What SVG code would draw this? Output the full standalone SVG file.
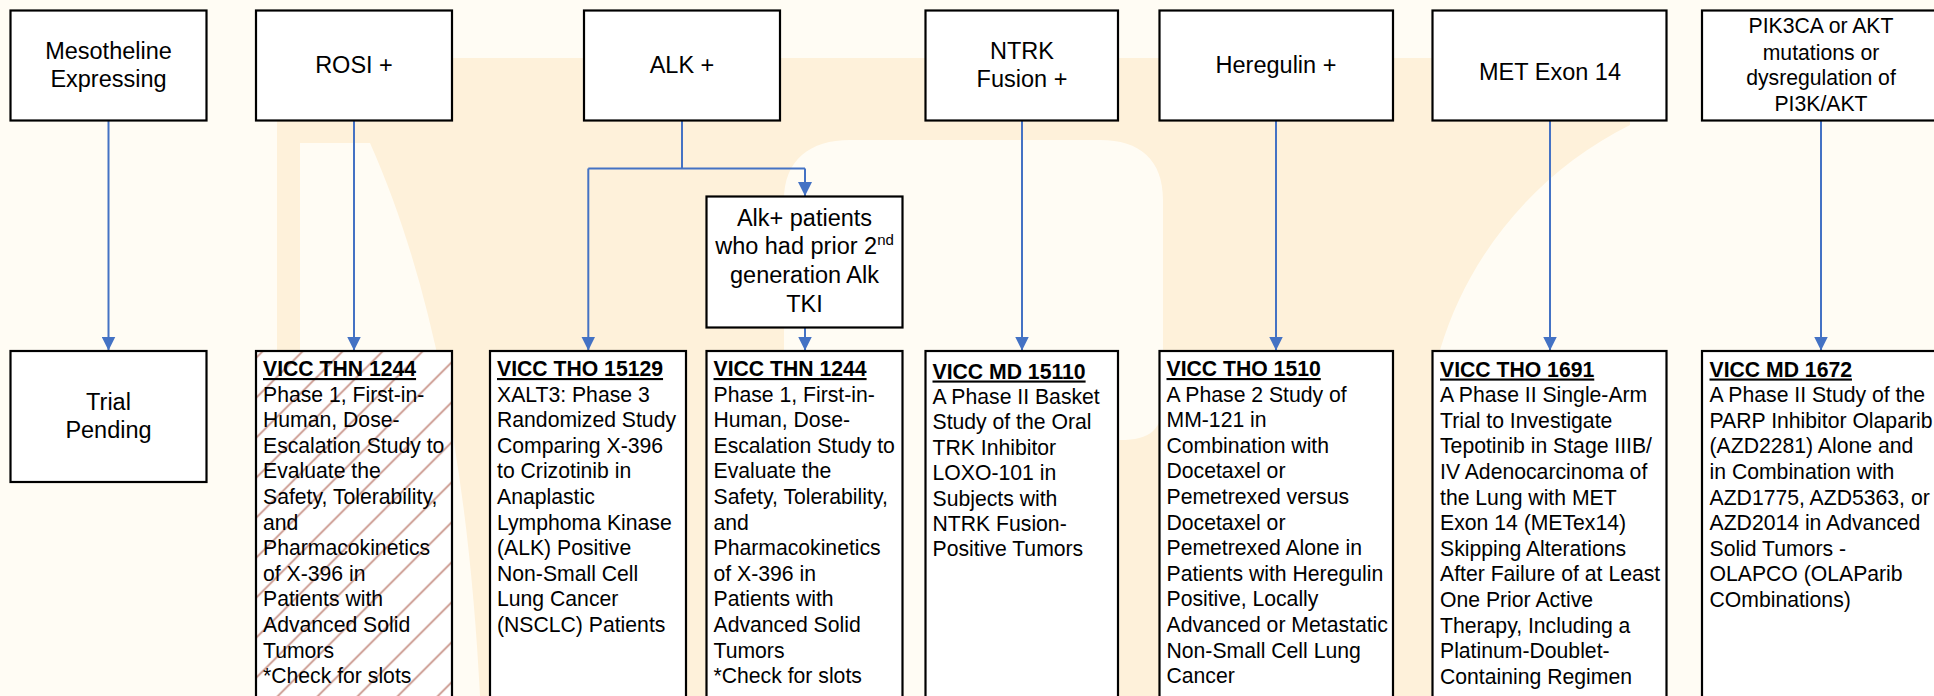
<svg xmlns="http://www.w3.org/2000/svg" width="1934" height="696" viewBox="0 0 1934 696">
<defs>
<style>
.box{fill:#FFFFFF;stroke:#000000;stroke-width:2.2}
.conn{fill:none;stroke:#4472C4;stroke-width:2}
.t{font-family:"Liberation Sans",Arial,sans-serif;font-size:23.5px;fill:#000;text-anchor:middle}
.ts{font-family:"Liberation Sans",Arial,sans-serif;font-size:21.2px;fill:#000;text-anchor:middle}
.b{font-family:"Liberation Sans",Arial,sans-serif;font-size:21.2px;fill:#000}
.h{font-weight:bold;text-decoration:underline}
.wm{fill:#FEF1DA}
.wl{fill:#FFFCF4}
</style>
<marker id="arr" markerUnits="userSpaceOnUse" markerWidth="14" markerHeight="14" refX="14" refY="7" orient="auto">
<path d="M0,0 L14,7 L0,14 z" fill="#4472C4"/>
</marker>
<pattern id="hatch" patternUnits="userSpaceOnUse" width="28.28" height="20" patternTransform="rotate(45)">
<line x1="10" y1="0" x2="10" y2="20" stroke="#C9968C" stroke-width="1.8"/>
</pattern>
</defs>
<rect x="0" y="0" width="1934" height="696" fill="#FFFCF4"/>
<g id="watermark">
<path class="wm" d="M280,58 L1630,58 L1630,125 C1540,170 1470,250 1440,350 L1440,696 L480,696 C470,500 440,300 370,143 L300,143 L300,696 L277,696 L277,60 Z"/>
<path class="wl" d="M784,696 L784,200 C784,160 810,140 850,140 L1100,140 C1140,140 1163,160 1163,200 L1163,400 C1163,430 1150,440 1120,440 L925,440 L925,696 Z"/>
</g>
<g id="connectors">
<line class="conn" x1="108.5" y1="121" x2="108.5" y2="350.5" marker-end="url(#arr)"/>
<line class="conn" x1="354" y1="121" x2="354" y2="350.5" marker-end="url(#arr)"/>
<polyline class="conn" points="682,121 682,168.5"/>
<polyline class="conn" points="588.3,168.5 805,168.5"/>
<line class="conn" x1="588.3" y1="168.5" x2="588.3" y2="350.5" marker-end="url(#arr)"/>
<line class="conn" x1="805" y1="168.5" x2="805" y2="196" marker-end="url(#arr)"/>
<line class="conn" x1="805" y1="328" x2="805" y2="350.5" marker-end="url(#arr)"/>
<line class="conn" x1="1022" y1="121" x2="1022" y2="350.5" marker-end="url(#arr)"/>
<line class="conn" x1="1276" y1="121" x2="1276" y2="350.5" marker-end="url(#arr)"/>
<line class="conn" x1="1550" y1="121" x2="1550" y2="350.5" marker-end="url(#arr)"/>
<line class="conn" x1="1821" y1="121" x2="1821" y2="350.5" marker-end="url(#arr)"/>
</g>
<g id="n-meso">
<rect class="box" x="10.5" y="10.5" width="196" height="110"/>
<text class="t" x="108.5" y="59.3">Mesotheline</text>
<text class="t" x="108.5" y="87.3">Expressing</text>
</g>
<g id="n-rosi">
<rect class="box" x="256" y="10.5" width="196" height="110"/>
<text class="t" x="354" y="72.7">ROSI +</text>
</g>
<g id="n-alk">
<rect class="box" x="584" y="10.5" width="196" height="110"/>
<text class="t" x="682" y="72.7">ALK +</text>
</g>
<g id="n-ntrk">
<rect class="box" x="925.5" y="10.5" width="192.5" height="110"/>
<text class="t" x="1022" y="59.3">NTRK</text>
<text class="t" x="1022" y="87.3">Fusion +</text>
</g>
<g id="n-heregulin">
<rect class="box" x="1159.5" y="10.5" width="233.5" height="110"/>
<text class="t" x="1276" y="72.7">Heregulin +</text>
</g>
<g id="n-met">
<rect class="box" x="1432.5" y="10.5" width="234" height="110"/>
<text class="t" x="1550" y="80">MET Exon 14</text>
</g>
<g id="n-pik">
<rect class="box" x="1702" y="10.5" width="240" height="110"/>
<text class="ts" x="1821" y="33.3">PIK3CA or AKT</text>
<text class="ts" x="1821" y="59.5">mutations or</text>
<text class="ts" x="1821" y="85">dysregulation of</text>
<text class="ts" x="1821" y="110.5">PI3K/AKT</text>
</g>
<g id="n-alk2">
<rect class="box" x="706.5" y="196.5" width="196" height="131"/>
<text class="t" x="804.5" y="226">Alk+ patients</text>
<text class="t" x="804.5" y="254.3">who had prior 2<tspan dy="-9" font-size="15">nd</tspan></text>
<text class="t" x="804.5" y="283.3">generation Alk</text>
<text class="t" x="804.5" y="311.7">TKI</text>
</g>
<g id="n-trial-pending">
<rect class="box" x="10.5" y="351" width="196" height="131"/>
<text class="t" x="108.5" y="410">Trial</text>
<text class="t" x="108.5" y="438.3">Pending</text>
</g>
<g id="n-thn1244-rosi">
<rect x="256" y="351" width="196" height="370" fill="#FFFFFF"/>
<rect x="256" y="351" width="196" height="370" fill="url(#hatch)"/>
<rect x="256" y="351" width="196" height="370" fill="none" stroke="#000" stroke-width="2.2"/>
<text class="b" x="263" y="376"><tspan class="h">VICC THN 1244</tspan><tspan x="263" dy="25.6">Phase 1, First-in-</tspan><tspan x="263" dy="25.6">Human, Dose-</tspan><tspan x="263" dy="25.6">Escalation Study to</tspan><tspan x="263" dy="25.6">Evaluate the</tspan><tspan x="263" dy="25.6">Safety, Tolerability,</tspan><tspan x="263" dy="25.6">and</tspan><tspan x="263" dy="25.6">Pharmacokinetics</tspan><tspan x="263" dy="25.6">of X-396 in</tspan><tspan x="263" dy="25.6">Patients with</tspan><tspan x="263" dy="25.6">Advanced Solid</tspan><tspan x="263" dy="25.6">Tumors</tspan><tspan x="263" dy="25.6">*Check for slots</tspan></text>
</g>
<g id="n-tho15129">
<rect class="box" x="490" y="351" width="196" height="370"/>
<text class="b" x="497" y="376"><tspan class="h">VICC THO 15129</tspan><tspan x="497" dy="25.6">XALT3: Phase 3</tspan><tspan x="497" dy="25.6">Randomized Study</tspan><tspan x="497" dy="25.6">Comparing X-396</tspan><tspan x="497" dy="25.6">to Crizotinib in</tspan><tspan x="497" dy="25.6">Anaplastic</tspan><tspan x="497" dy="25.6">Lymphoma Kinase</tspan><tspan x="497" dy="25.6">(ALK) Positive</tspan><tspan x="497" dy="25.6">Non-Small Cell</tspan><tspan x="497" dy="25.6">Lung Cancer</tspan><tspan x="497" dy="25.6">(NSCLC) Patients</tspan></text>
</g>
<g id="n-thn1244-alk">
<rect class="box" x="706.5" y="351" width="196" height="370"/>
<text class="b" x="713.5" y="376"><tspan class="h">VICC THN 1244</tspan><tspan x="713.5" dy="25.6">Phase 1, First-in-</tspan><tspan x="713.5" dy="25.6">Human, Dose-</tspan><tspan x="713.5" dy="25.6">Escalation Study to</tspan><tspan x="713.5" dy="25.6">Evaluate the</tspan><tspan x="713.5" dy="25.6">Safety, Tolerability,</tspan><tspan x="713.5" dy="25.6">and</tspan><tspan x="713.5" dy="25.6">Pharmacokinetics</tspan><tspan x="713.5" dy="25.6">of X-396 in</tspan><tspan x="713.5" dy="25.6">Patients with</tspan><tspan x="713.5" dy="25.6">Advanced Solid</tspan><tspan x="713.5" dy="25.6">Tumors</tspan><tspan x="713.5" dy="25.6">*Check for slots</tspan></text>
</g>
<g id="n-md15110">
<rect class="box" x="925.5" y="351" width="192.5" height="370"/>
<text class="b" x="932.5" y="378.5"><tspan class="h">VICC MD 15110</tspan><tspan x="932.5" dy="25.4">A Phase II Basket</tspan><tspan x="932.5" dy="25.4">Study of the Oral</tspan><tspan x="932.5" dy="25.4">TRK Inhibitor</tspan><tspan x="932.5" dy="25.4">LOXO-101 in</tspan><tspan x="932.5" dy="25.4">Subjects with</tspan><tspan x="932.5" dy="25.4">NTRK Fusion-</tspan><tspan x="932.5" dy="25.4">Positive Tumors</tspan></text>
</g>
<g id="n-tho1510">
<rect class="box" x="1159.5" y="351" width="233.5" height="370"/>
<text class="b" x="1166.5" y="376"><tspan class="h">VICC THO 1510</tspan><tspan x="1166.5" dy="25.6">A Phase 2 Study of</tspan><tspan x="1166.5" dy="25.6">MM-121 in</tspan><tspan x="1166.5" dy="25.6">Combination with</tspan><tspan x="1166.5" dy="25.6">Docetaxel or</tspan><tspan x="1166.5" dy="25.6">Pemetrexed versus</tspan><tspan x="1166.5" dy="25.6">Docetaxel or</tspan><tspan x="1166.5" dy="25.6">Pemetrexed Alone in</tspan><tspan x="1166.5" dy="25.6">Patients with Heregulin</tspan><tspan x="1166.5" dy="25.6">Positive, Locally</tspan><tspan x="1166.5" dy="25.6">Advanced or Metastatic</tspan><tspan x="1166.5" dy="25.6">Non-Small Cell Lung</tspan><tspan x="1166.5" dy="25.6">Cancer</tspan></text>
</g>
<g id="n-tho1691">
<rect class="box" x="1432.5" y="351" width="234" height="370"/>
<text class="b" x="1440" y="376.5"><tspan class="h">VICC THO 1691</tspan><tspan x="1440" dy="25.6">A Phase II Single-Arm</tspan><tspan x="1440" dy="25.6">Trial to Investigate</tspan><tspan x="1440" dy="25.6">Tepotinib in Stage IIIB/</tspan><tspan x="1440" dy="25.6">IV Adenocarcinoma of</tspan><tspan x="1440" dy="25.6">the Lung with MET</tspan><tspan x="1440" dy="25.6">Exon 14 (METex14)</tspan><tspan x="1440" dy="25.6">Skipping Alterations</tspan><tspan x="1440" dy="25.6">After Failure of at Least</tspan><tspan x="1440" dy="25.6">One Prior Active</tspan><tspan x="1440" dy="25.6">Therapy, Including a</tspan><tspan x="1440" dy="25.6">Platinum-Doublet-</tspan><tspan x="1440" dy="25.6">Containing Regimen</tspan></text>
</g>
<g id="n-md1672">
<rect class="box" x="1702" y="351" width="240" height="370"/>
<text class="b" x="1709.5" y="376.5"><tspan class="h">VICC MD 1672</tspan><tspan x="1709.5" dy="25.6">A Phase II Study of the</tspan><tspan x="1709.5" dy="25.6">PARP Inhibitor Olaparib</tspan><tspan x="1709.5" dy="25.6">(AZD2281) Alone and</tspan><tspan x="1709.5" dy="25.6">in Combination with</tspan><tspan x="1709.5" dy="25.6">AZD1775, AZD5363, or</tspan><tspan x="1709.5" dy="25.6">AZD2014 in Advanced</tspan><tspan x="1709.5" dy="25.6">Solid Tumors -</tspan><tspan x="1709.5" dy="25.6">OLAPCO (OLAParib</tspan><tspan x="1709.5" dy="25.6">COmbinations)</tspan></text>
</g>
</svg>
